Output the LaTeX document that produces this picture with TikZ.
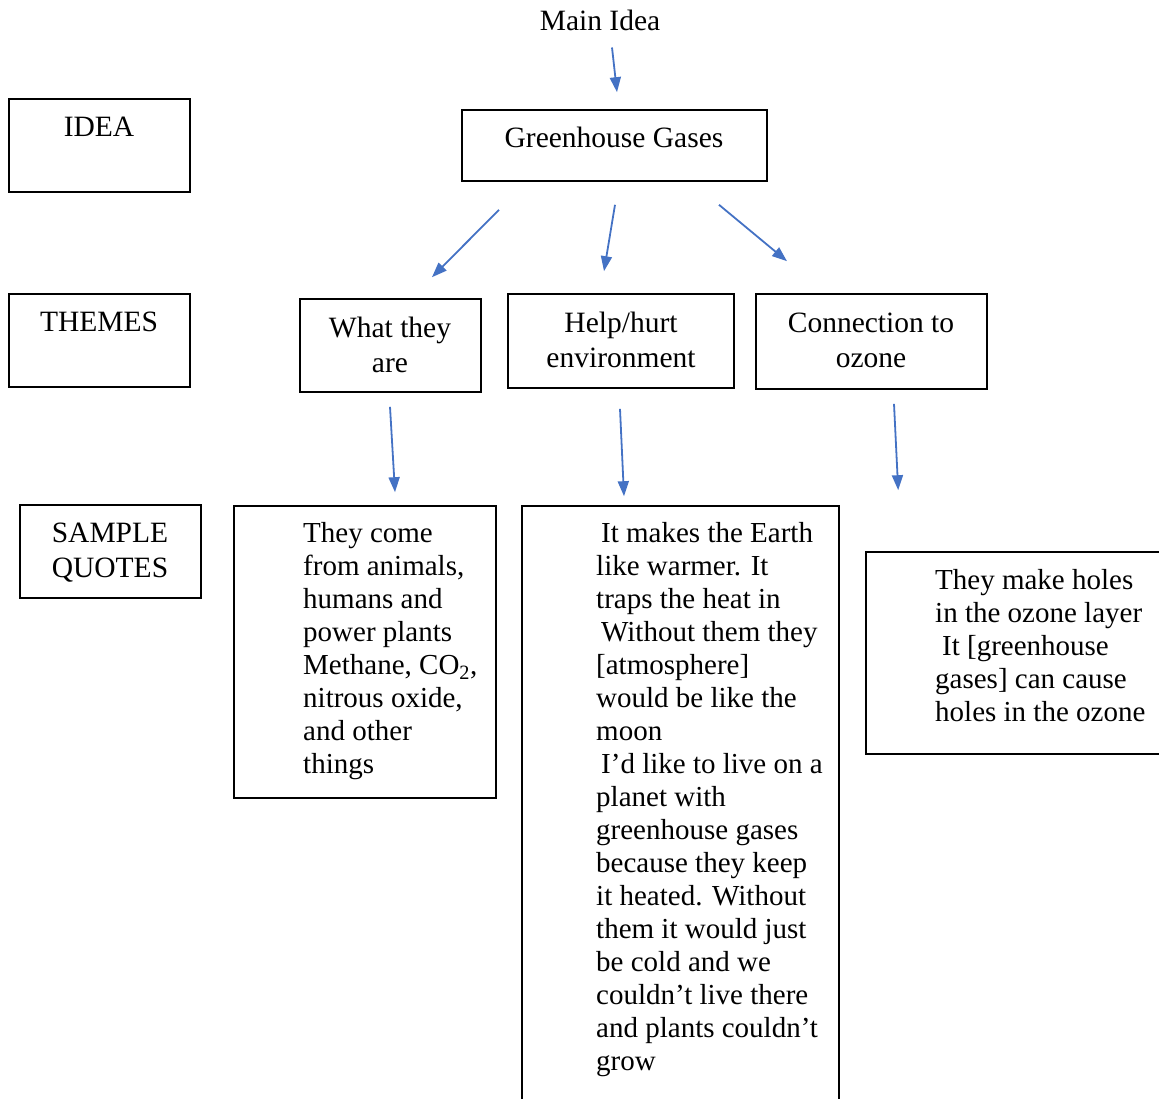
\documentclass[tikz,border=0pt]{standalone}
\usepackage{fontspec}
\setmainfont{Liberation Serif}
\usetikzlibrary{arrows.meta, positioning, calc, fit}
\definecolor{linkblue}{RGB}{68,114,196}
\tikzset{
    box/.style={ % Plain black frame
    draw,
    line width=1.6pt,
    inner sep=0pt},
    lbl/.style={ % One line of text, placed on its baseline
    inner sep=0pt,
    anchor=base,
    font=\fontsize{29.5}{33}\selectfont},
    twoline/.style={ % Centered two-line titles
    inner sep=0pt,
    anchor=north,
    align=center,
    font=\fontsize{29.5}{35}\selectfont},
    quotes/.style={ % Left aligned quotes
    inner sep=0pt,
    anchor=north west,
    align=left,
    font=\fontsize{29}{33}\selectfont},
    link/.style={ % Blue arrows
    draw=linkblue,
    line width=1.8pt,
    -{Triangle[length=15pt,width=11pt]}}}

\begin{document}
\begin{tikzpicture}[x=1pt,y=-1pt]
    \useasboundingbox (0,0) rectangle (1159,1099);
    \clip (0,0) rectangle (1159,1099);

    % Row labels
    \node[box, fit={(9,99) (190,192)}] (ideabox) {};
    \node[lbl] (ideatext) at (99,137) {IDEA};
    \node[box, fit={(9,294) (190,387)}] (themebox) {};
    \node[lbl] (themetext) at (99,331) {THEMES};
    \node[box, fit={(20,505) (201,598)}] (samplebox) {};
    \node[twoline] (sampletext) at (110,523) {SAMPLE\\QUOTES};

    % Main idea
    \node[lbl] (mainidea) at (600,31) {Main Idea};
    \node[box, fit={(462,110) (767,181)}] (gg) {};
    \node[lbl] (ggtext) at (614,148) {Greenhouse Gases};

    % Themes
    \node[box, fit={(300,299) (481,392)}] (what) {};
    \node[twoline] (whattext) at (390,317) {What they\\are};
    \node[box, fit={(508,294) (734,388)}] (help) {};
    \node[twoline] (helptext) at (621,312) {Help/hurt\\environment};
    \node[box, fit={(756,294) (987,389)}] (conn) {};
    \node[twoline] (conntext) at (871,313) {Connection to\\ozone};

    % Sample quotes
    \node[box, fit={(234,506) (496,798)}] (q1) {};
    \node[quotes] (q1text) at (303,522) {They come\\from animals,\\humans and\\power plants\\Methane, CO\textsubscript{2},\\nitrous oxide,\\and other\\things};
    \node[box, fit={(522,506) (839,1115)}] (q2) {};
    \node[quotes] (q2text) at (596,522) {\hspace*{5pt}It makes the Earth\\like warmer. It\\traps the heat in\\\hspace*{5pt}Without them they\\{}[atmosphere]\\would be like the\\moon\\\hspace*{5pt}I’d like to live on a\\planet with\\greenhouse gases\\because they keep\\it heated. Without\\them it would just\\be cold and we\\couldn’t live there\\and plants couldn’t\\grow};
    \node[box, fit={(866,552) (1175,754)}] (q3) {};
    \node[quotes] (q3text) at (935,569) {They make holes\\in the ozone layer\\\hspace*{7pt}It [greenhouse\\gases] can cause\\holes in the ozone};

    % Arrows
    \draw[link] ($(mainidea.south)+(12,16)$) -- ($(gg.north)+(2.5,-17)$);
    \draw[link] ($(gg.south)+(-115.5,28)$) -- ($(what.north)+(41.5,-21)$);
    \draw[link] ($(gg.south)+(0.5,23)$) -- ($(help.north)+(-17,-22)$);
    \draw[link] ($(gg.south)+(104.5,23)$) -- ($(conn.north)+(-84.5,-32)$);
    \draw[link] ($(what.south)+(-0.5,14)$) -- ($(q1.north)+(30,-13)$);
    \draw[link] ($(help.south)+(-1,20)$) -- ($(q2.north)+(-56.5,-9)$);
    \draw[link] ($(conn.south)+(22.5,14)$) -- ($(q3.north west)+(33,-61)$);
\end{tikzpicture}
\end{document}
